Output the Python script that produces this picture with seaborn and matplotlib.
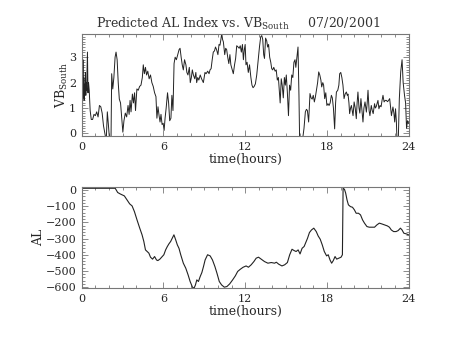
import matplotlib
matplotlib.use("Agg")
import matplotlib.pyplot as plt
import seaborn as sns
import pandas as pd
from matplotlib.ticker import MultipleLocator

# ---- data: VB_South (top panel) ----
vb_time = [0.0, 0.03, 0.06, 0.09, 0.12, 0.15, 0.18, 0.21, 0.24, 0.27, 0.3, 0.33, 0.36, 0.42, 0.46, 0.5, 0.55,
           0.62, 0.7, 0.8, 0.9, 1.0, 1.1, 1.2, 1.3, 1.4, 1.5, 1.6, 1.7, 1.8, 1.88, 1.95, 2.05, 2.15, 2.2, 2.28,
           2.36, 2.45, 2.52, 2.6, 2.68, 2.76, 2.85, 2.95, 3.02, 3.1, 3.2, 3.3, 3.4, 3.48, 3.55, 3.62, 3.72, 3.8,
           3.88, 3.95, 4.05, 4.15, 4.25, 4.35, 4.45, 4.52, 4.6, 4.68, 4.76, 4.85, 4.95, 5.05, 5.15, 5.25, 5.35,
           5.45, 5.52, 5.6, 5.68, 5.75, 5.82, 5.9, 5.98, 6.05, 6.12, 6.2, 6.3, 6.38, 6.46, 6.55, 6.62, 6.7, 6.78,
           6.86, 6.95, 7.05, 7.15, 7.22, 7.3, 7.38, 7.46, 7.55, 7.65, 7.72, 7.8, 7.9, 7.97, 8.05, 8.12, 8.2, 8.3,
           8.38, 8.44, 8.52, 8.6, 8.7, 8.8, 8.93, 9.05, 9.13, 9.25, 9.35, 9.42, 9.5, 9.58, 9.66, 9.75, 9.82, 9.9,
           10.0, 10.08, 10.15, 10.22, 10.28, 10.34, 10.4, 10.5, 10.57, 10.64, 10.72, 10.8, 10.88, 10.95, 11.05,
           11.13, 11.22, 11.3, 11.38, 11.48, 11.56, 11.64, 11.72, 11.8, 11.87, 11.94, 12.0, 12.06, 12.14, 12.23,
           12.32, 12.42, 12.5, 12.58, 12.66, 12.75, 12.85, 12.97, 13.05, 13.14, 13.22, 13.29, 13.36, 13.42, 13.5,
           13.58, 13.65, 13.72, 13.8, 13.88, 13.95, 14.02, 14.1, 14.2, 14.28, 14.36, 14.44, 14.5, 14.57, 14.65,
           14.72, 14.8, 14.88, 14.95, 15.02, 15.1, 15.18, 15.26, 15.34, 15.42, 15.5, 15.58, 15.66, 15.72, 15.8,
           15.88, 15.95, 16.0, 16.2, 16.32, 16.42, 16.5, 16.57, 16.66, 16.76, 16.84, 16.92, 17.0, 17.08, 17.16,
           17.25, 17.32, 17.4, 17.48, 17.56, 17.62, 17.7, 17.76, 17.84, 17.92, 18.0, 18.08, 18.16, 18.24, 18.33,
           18.4, 18.48, 18.57, 18.64, 18.7, 18.8, 18.88, 18.94, 19.02, 19.1, 19.18, 19.26, 19.34, 19.43, 19.5,
           19.55, 19.62, 19.67, 19.74, 19.8, 19.86, 19.92, 20.0, 20.08, 20.16, 20.22, 20.28, 20.36, 20.42, 20.5,
           20.58, 20.65, 20.72, 20.8, 20.9, 20.96, 21.02, 21.1, 21.16, 21.26, 21.33, 21.4, 21.5, 21.56, 21.62,
           21.7, 21.75, 21.82, 21.9, 21.98, 22.05, 22.12, 22.2, 22.28, 22.37, 22.45, 22.53, 22.61, 22.68, 22.74,
           22.8, 22.85, 22.92, 22.98, 23.04, 23.1, 23.15, 23.24, 23.32, 23.42, 23.52, 23.6, 23.7, 23.78, 23.85,
           23.92, 24.0]
vb_south = [1.0, 2.6, 1.2, 2.9, 1.4, 2.2, 1.3, 1.9, 1.6, 2.4, 1.5, 2.0, 1.7, 3.2, 1.6, 2.0, 1.7,
            0.9, 0.55, 0.55, 0.75, 0.7, 0.85, 0.65, 1.1, 1.05, 0.8, 0.3, 0.0, -0.3, 0.85, 0.4, -0.3, -0.3, 2.35, 1.75,
            2.2, 3.0, 3.2, 2.9, 2.0, 1.35, 1.2, 0.5, 0.05, 0.5, 0.8, 0.65, 1.1, 0.75, 1.3, 0.85, 1.55, 1.2,
            1.6, 0.9, 1.75, 1.7, 1.85, 1.9, 2.2, 2.7, 2.35, 2.6, 2.3, 2.45, 2.15, 2.3, 2.0, 1.85, 1.6,
            1.45, 0.6, 1.05, 0.7, 0.45, 0.75, 0.35, 0.4, 0.12, 0.6, 1.0, 1.6, 1.2, 0.5, 0.6, 1.5, 0.9, 2.75,
            3.0, 2.9, 3.1, 3.3, 3.35, 3.0, 2.7, 2.5, 2.9, 2.7, 2.4, 2.3, 2.6, 2.0, 2.2, 2.5, 2.3, 2.15,
            2.4, 2.0, 2.2, 2.1, 2.3, 2.15, 2.0, 2.4, 2.35, 2.45, 2.35, 2.5, 2.55, 2.9, 3.2, 3.25, 3.4, 3.3,
            3.1, 3.5, 3.47, 3.7, 3.93, 3.7, 3.6, 3.1, 3.35, 3.3, 3.0, 2.75, 3.1, 2.7, 2.5,
            2.35, 2.7, 2.95, 3.45, 3.4, 3.35, 3.45, 3.2, 3.5, 2.9, 3.3, 3.5, 2.7, 2.8, 2.4,
            2.7, 2.2, 1.9, 1.8, 1.85, 1.95, 2.3, 2.95, 3.4, 3.8, 3.85, 3.7, 3.1, 2.95, 3.75,
            3.65, 3.4, 3.5, 3.0, 2.8, 2.55, 2.5, 2.6, 2.45, 2.5, 2.1, 2.2, 1.76, 1.2, 2.15,
            1.9, 1.4, 2.2, 1.9, 2.3, 1.6, 0.7, 1.9, 1.7, 2.3, 2.2, 2.8, 2.9, 2.6, 3.0,
            3.4, 1.5, -0.3, -0.3, 0.2, 0.85, 0.95, 0.9, 0.45, 1.57, 1.4, 1.35, 1.5, 1.24, 1.45,
            1.76, 2.0, 2.42, 2.3, 2.1, 1.83, 2.0, 1.9, 1.37, 1.6, 1.1, 1.17, 1.1, 1.2, 1.5,
            1.4, 1.0, 0.18, 1.2, 1.63, 1.7, 1.9, 2.35, 2.4, 2.2, 1.9, 1.37, 1.55, 1.63, 1.5,
            1.55, 1.2, 0.78, 1.0, 1.1, 0.9, 0.7, 1.24, 1.0, 0.58, 1.2, 1.63, 1.0, 0.8, 1.37,
            0.9, 0.45, 1.0, 1.24, 0.84, 1.2, 1.7, 0.9, 0.7, 1.1, 0.9, 0.78, 1.17, 1.0, 1.05,
            1.2, 1.3, 0.97, 1.1, 1.05, 1.3, 1.5, 1.24, 1.3, 1.3, 1.25, 1.3, 1.37, 1.0, 0.7,
            0.9, 1.04, 0.8, 0.45, 0.97, 0.5, -0.3, -0.3, 1.37, 2.42, 2.9, 2.0, 1.5, 1.2, 0.2,
            0.5, 0.4]

# ---- data: AL index (bottom panel) ----
al_time = [0.0, 1.0, 2.0, 2.46, 2.64, 2.83, 3.13, 3.33, 3.52, 3.7, 3.87, 4.06, 4.26, 4.43, 4.56, 4.68, 4.8,
           4.93, 5.05, 5.2, 5.35, 5.49, 5.59, 5.74, 5.91, 6.03, 6.16, 6.28, 6.4, 6.53, 6.65, 6.77, 6.9, 7.02,
           7.14, 7.27, 7.46, 7.64, 7.81, 7.96, 8.13, 8.25, 8.35, 8.45, 8.57, 8.7, 8.82, 8.94, 9.06, 9.24, 9.43,
           9.6, 9.78, 9.93, 10.1, 10.27, 10.47, 10.66, 10.86, 11.08, 11.28, 11.45, 11.65, 11.85, 12.07, 12.24,
           12.44, 12.64, 12.81, 12.98, 13.18, 13.42, 13.67, 13.92, 14.16, 14.29, 14.46, 14.7, 14.9, 15.1, 15.27,
           15.44, 15.59, 15.74, 15.89, 16.03, 16.18, 16.33, 16.43, 16.58, 16.72, 16.87, 17.04, 17.22, 17.36,
           17.51, 17.66, 17.81, 17.98, 18.1, 18.23, 18.35, 18.47, 18.6, 18.72, 18.89, 19.04, 19.14, 19.19,
           19.29, 19.38, 19.48, 19.58, 19.73, 19.88, 20.02, 20.15, 20.32, 20.47, 20.62, 20.76, 20.94, 21.11,
           21.31, 21.5, 21.67, 21.85, 22.04, 22.24, 22.44, 22.59, 22.73, 22.9, 23.08, 23.23, 23.4, 23.52,
           23.65, 23.82, 24.0]
al_index = [10, 10, 10, 10, -16, -25, -37, -62, -86, -99, -134, -185, -236, -277, -318, -370, -380,
            -390, -415, -427, -411, -432, -436, -427, -411, -400, -370, -350, -333, -318, -298, -277, -308, -339,
            -360, -400, -452, -483, -524, -565, -600, -606, -586, -555, -565, -534, -510, -473, -432, -400, -407,
            -432, -473, -514, -565, -586, -600, -596, -580, -555, -530, -503, -489, -477, -469, -477,
            -462, -442, -421, -415, -427, -442, -452, -448, -452, -446, -458, -469, -462, -448, -400,
            -366, -374, -380, -370, -395, -360, -349, -329, -298, -263, -247, -236, -257, -284,
            -304, -339, -380, -407, -400, -432, -452, -436, -411, -427, -421, -415, -400, 10,
            4, -20, -62, -92, -103, -107, -123, -144, -144, -154, -185, -205, -226, -230,
            -230, -230, -216, -205, -210, -216, -222, -230, -247, -257, -257, -251, -236, -247,
            -267, -271, -277]

x_ticks = [0, 6, 12, 18, 24]
vb_yticks = [0, 1, 2, 3]
al_yticks = [0, -100, -200, -300, -400, -500, -600]

sns.set_theme(style="ticks")
plt.rcParams['font.family'] = ['DejaVu Serif']
plt.rcParams['mathtext.fontset'] = 'dejavuserif'

fig = plt.figure(figsize=(4.54, 3.41), dpi=100)
ax1 = fig.add_axes([0.18, 0.6012, 0.72, 0.2982])
ax2 = fig.add_axes([0.18, 0.1545, 0.72, 0.2962])

df_vb = pd.DataFrame({"time": vb_time, "vb": vb_south})
df_al = pd.DataFrame({"time": al_time, "al": al_index})

sns.lineplot(data=df_vb, x="time", y="vb", ax=ax1, color="#222222", linewidth=0.7, sort=False)
sns.lineplot(data=df_al, x="time", y="al", ax=ax2, color="#222222", linewidth=0.8, sort=False)

frame = "#777777"
for ax, yt, ylim, yminor in [(ax1, vb_yticks, (-0.1, 3.9), 0.1), (ax2, al_yticks, (-607, 16), 20)]:
    ax.set_xlim(0, 24)
    ax.set_ylim(*ylim)
    ax.set_xticks(x_ticks)
    ax.set_yticks(yt)
    ax.xaxis.set_minor_locator(MultipleLocator(1))
    ax.yaxis.set_minor_locator(MultipleLocator(yminor))
    ax.tick_params(which="both", direction="in", top=True, right=True, color=frame,
                   labelsize=8, width=0.6, pad=4)
    ax.tick_params(which="major", length=4)
    ax.tick_params(which="minor", length=2)
    for s in ax.spines.values():
        s.set_color(frame)
        s.set_linewidth(0.8)
    ax.set_xlabel("time(hours)", fontsize=9, labelpad=1)

ax1.set_ylabel(r"VB$_{\mathrm{South}}$", fontsize=9, labelpad=-1)
ax2.set_ylabel("AL", fontsize=9, labelpad=0)

fig.text(0.525, 1 - 24 / 341, r"Predicted AL Index vs. VB$_{\mathrm{South}}$     07/20/2001",
         ha="center", va="center", fontsize=9, color="#333333")

fig.savefig("out.png", dpi=100, facecolor="white")
